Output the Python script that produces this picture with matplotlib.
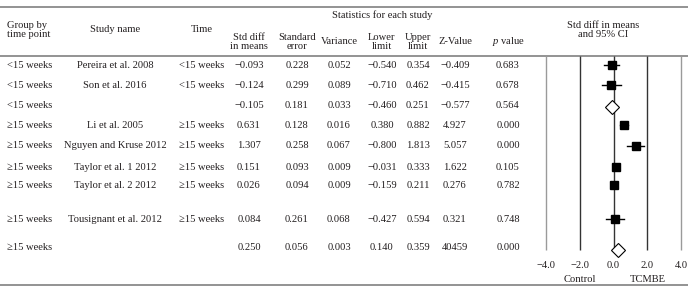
import matplotlib.pyplot as plt
import numpy as np

# ---------------------------------------------------------------------------
# Data (read off the reference table)
# ---------------------------------------------------------------------------

GROUPS = ["<15 weeks", "<15 weeks", "<15 weeks", "\u226515 weeks", "\u226515 weeks",
          "\u226515 weeks", "\u226515 weeks", "\u226515 weeks", "\u226515 weeks"]
STUDIES = ["Pereira et al. 2008", "Son et al. 2016", "", "Li et al. 2005",
           "Nguyen and Kruse 2012", "Taylor et al. 1 2012", "Taylor et al. 2 2012",
           "Tousignant et al. 2012", ""]
TIMES = ["<15 weeks", "<15 weeks", "", "\u226515 weeks", "\u226515 weeks",
         "\u226515 weeks", "\u226515 weeks", "\u226515 weeks", ""]
STD_DIFF = ["\u22120.093", "\u22120.124", "\u22120.105", "0.631", "1.307",
            "0.151", "0.026", "0.084", "0.250"]
STD_ERR = ["0.228", "0.299", "0.181", "0.128", "0.258", "0.093", "0.094", "0.261", "0.056"]
VARIANCE = ["0.052", "0.089", "0.033", "0.016", "0.067", "0.009", "0.009", "0.068", "0.003"]
LOWER = ["\u22120.540", "\u22120.710", "\u22120.460", "0.380", "\u22120.800",
         "\u22120.031", "\u22120.159", "\u22120.427", "0.140"]
UPPER = ["0.354", "0.462", "0.251", "0.882", "1.813", "0.333", "0.211", "0.594", "0.359"]
ZVAL = ["\u22120.409", "\u22120.415", "\u22120.577", "4.927", "5.057",
        "1.622", "0.276", "0.321", "40459"]
PVAL = ["0.683", "0.678", "0.564", "0.000", "0.000", "0.105", "0.782", "0.748", "0.000"]

# forest plot values (the Nguyen whisker is drawn from +0.8 in the source figure)
EFFECT = [-0.093, -0.124, -0.105, 0.631, 1.307, 0.151, 0.026, 0.084, 0.250]
CI_LOW = [-0.540, -0.710, -0.460, 0.380, 0.800, -0.031, -0.159, -0.427, 0.140]
CI_HIGH = [0.354, 0.462, 0.251, 0.882, 1.813, 0.333, 0.211, 0.594, 0.359]
IS_SUMMARY = [False, False, True, False, False, False, False, False, True]

AXIS_TICKS = [-4.0, -2.0, 0.0, 2.0, 4.0]

# ---------------------------------------------------------------------------
# Layout (pixels)
# ---------------------------------------------------------------------------

W, H = 694, 296
ROW_Y = [65, 85, 105, 125, 146, 167, 185, 219, 248]
COL_X = {"study": 115, "time": 202, "sd": 249, "se": 297, "var": 339,
         "lo": 382, "up": 418, "z": 455, "p": 508}
FOREST_X0, FOREST_X1 = 546, 681

TXT = "#231f20"
RULE = "#8a8a8a"
FS = 7.6

plt.rcParams["font.family"] = ["Liberation Serif", "DejaVu Serif"]
plt.rcParams["mathtext.fontset"] = "custom"
plt.rcParams["mathtext.it"] = "Liberation Serif:italic"
plt.rcParams["mathtext.rm"] = "Liberation Serif"

fig = plt.figure(figsize=(W / 100, H / 100), dpi=100)
tab = fig.add_axes([0, 0, 1, 1])
tab.set_xlim(0, W)
tab.set_ylim(H, 0)
tab.axis("off")

# horizontal rules
for y in (7, 56, 285):
    tab.plot([0, 688], [y, y], color=RULE, lw=1.3, solid_capstyle="butt")

# headers
hdr = dict(color=TXT, fontsize=FS, ha="center", va="center", linespacing=1.1)
tab.text(7, 30, "Group by\ntime point", **{**hdr, "ha": "left"})
tab.text(COL_X["study"], 30, "Study name", **hdr)
tab.text(COL_X["time"], 29, "Time", **hdr)
tab.text(382, 15, "Statistics for each study", **hdr)
tab.text(COL_X["sd"], 42, "Std diff\nin means", **hdr)
tab.text(COL_X["se"], 42, "Standard\nerror", **hdr)
tab.text(COL_X["var"], 42, "Variance", **hdr)
tab.text(COL_X["lo"], 42, "Lower\nlimit", **hdr)
tab.text(COL_X["up"], 42, "Upper\nlimit", **hdr)
tab.text(COL_X["z"], 42, "Z-Value", **hdr)
tab.text(COL_X["p"], 42, r"$p$ value", **hdr)
tab.text(603, 30, "Std diff in means\nand 95% CI", **hdr)

# table body
cell = dict(color=TXT, fontsize=FS, ha="center", va="center")
columns = [("study", STUDIES), ("time", TIMES), ("sd", STD_DIFF), ("se", STD_ERR),
           ("var", VARIANCE), ("lo", LOWER), ("up", UPPER), ("z", ZVAL), ("p", PVAL)]
for i, y in enumerate(ROW_Y):
    tab.text(7, y, GROUPS[i], **{**cell, "ha": "left"})
    for key, vals in columns:
        if vals[i]:
            tab.text(COL_X[key], y, vals[i], **cell)

# forest plot
fa = fig.add_axes([FOREST_X0 / W, 0, (FOREST_X1 - FOREST_X0) / W, 1])
fa.set_xlim(AXIS_TICKS[0], AXIS_TICKS[-1])
fa.set_ylim(H, 0)
fa.axis("off")
for t in AXIS_TICKS:
    col = "#9a9a9a" if abs(t) == 4 else "#333333"
    fa.plot([t, t], [56, 250], color=col, lw=1.0, clip_on=False, solid_capstyle="butt")
    fa.text(t, 266, f"{t:.1f}".replace("-", "\u2212"), color=TXT, fontsize=FS,
            ha="center", va="center", clip_on=False)
fa.text(-2, 280, "Control", color=TXT, fontsize=FS, ha="center", va="center")
fa.text(2, 280, "TCMBE", color=TXT, fontsize=FS, ha="center", va="center")

for i, y in enumerate(ROW_Y):
    if IS_SUMMARY[i]:
        fa.plot(EFFECT[i], y + 2, marker="D", markersize=7.5, markerfacecolor="white",
                markeredgecolor="black", markeredgewidth=0.8, zorder=4, clip_on=False)
    else:
        fa.plot([CI_LOW[i], CI_HIGH[i]], [y, y], color="black", lw=1.0, zorder=3)
        fa.plot(EFFECT[i], y, marker="s", markersize=6, markerfacecolor="black",
                markeredgecolor="black", zorder=4)

fig.savefig("out.png", dpi=100, facecolor="white")
